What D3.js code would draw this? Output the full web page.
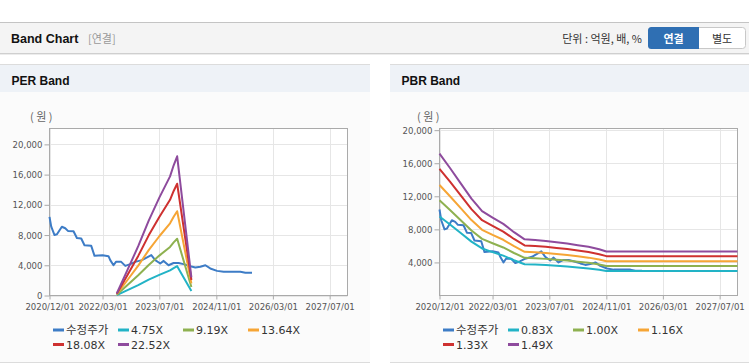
<!DOCTYPE html>
<html>
<head>
<meta charset="utf-8">
<script src="https://cdn.jsdelivr.net/npm/d3@7"></script>
<style>
  body { margin: 0; background: #fff; }
  svg { display: block; font-family: "Liberation Sans", Arial, sans-serif; }
  .kr { font-family: "Noto Sans CJK KR", "Liberation Sans", sans-serif; }
</style>
</head>
<body>
<svg id="page" width="749" height="364"></svg>
<script>
// ---- data ----
const xTickDates = ['2020-12-01', '2022-03-01', '2023-07-01', '2024-11-01', '2026-03-01', '2027-07-01'];
const xDomain = ['2020-12-01', '2027-12-01'];

const priceDates = ['2020-12-01', '2020-12-16', '2021-01-13', '2021-02-03', '2021-03-17', '2021-04-15',
    '2021-05-08', '2021-06-25', '2021-07-24', '2021-08-30', '2021-09-27', '2021-11-24', '2021-12-22',
    '2022-03-01', '2022-04-21', '2022-05-06', '2022-06-03', '2022-06-24', '2022-08-08', '2022-09-12',
    '2022-10-25', '2022-12-07', '2023-02-02', '2023-04-23', '2023-05-27', '2023-07-09', '2023-08-07',
    '2023-09-18', '2023-10-31', '2023-12-13', '2024-01-25', '2024-03-23', '2024-05-05', '2024-06-17',
    '2024-07-30', '2024-09-10', '2024-11-07', '2025-01-03', '2025-05-26', '2025-07-08', '2025-09-03'];
const priceValues = [10400, 9100, 8000, 8100, 9100, 8900,
    8550, 8500, 7600, 7550, 6650, 6570, 5250,
    5340, 5200, 4680, 4000, 4450, 4450, 3920,
    4150, 4450, 4680, 5340, 4680, 4240, 4580,
    4000, 4300, 4300, 4150, 3880, 3700, 3800,
    4000, 3580, 3260, 3130, 3130, 3000, 3000];

const perDates = ['2022-07-01', '2022-10-01', '2023-01-01', '2023-04-01', '2023-07-01', '2023-10-01',
    '2023-11-01', '2023-12-01', '2024-04-01'];
const per475 = [57, 710, 1380, 2090, 2730, 3330, 3630, 3886, 600];
const per919 = [110, 1380, 2670, 4040, 5280, 6430, 7030, 7517, 1120];
const per1364 = [164, 2050, 3960, 6000, 7840, 9550, 10430, 11158, 1600];
const per1808 = [217, 2710, 5240, 7960, 10400, 12660, 13830, 14789, 2050];
const per2252 = [270, 3380, 6530, 9910, 12950, 15760, 17230, 18421, 2400];

const pbrDates = ['2020-12-01', '2021-03-01', '2021-06-01', '2021-09-01', '2021-12-01', '2022-03-01',
    '2022-06-01', '2022-09-01', '2022-12-01', '2023-03-01', '2023-06-01', '2023-09-01', '2023-12-01',
    '2024-03-01', '2024-06-01', '2024-09-01', '2024-11-01', '2027-12-01'];
const pbr083 = [9560, 8590, 7550, 6520, 5690, 5250, 4820, 4270, 3780, 3740, 3680, 3590, 3510, 3390, 3280, 3120, 2970, 2970];
const pbr100 = [11520, 10350, 9100, 7860, 6850, 6320, 5810, 5140, 4560, 4500, 4430, 4330, 4230, 4090, 3950, 3760, 3580, 3580];
const pbr116 = [13360, 12010, 10560, 9120, 7950, 7330, 6740, 5960, 5290, 5220, 5140, 5020, 4910, 4740, 4580, 4360, 4150, 4150];
const pbr133 = [15320, 13770, 12100, 10450, 9110, 8410, 7730, 6840, 6060, 5990, 5890, 5760, 5630, 5440, 5250, 5000, 4760, 4760];
const pbr149 = [17160, 15420, 13560, 11710, 10210, 9420, 8660, 7660, 6790, 6710, 6600, 6450, 6300, 6090, 5890, 5600, 5330, 5330];

const perLabels = ['수정주가', '4.75X', '9.19X', '13.64X', '18.08X', '22.52X'];
const pbrLabels = ['수정주가', '0.83X', '1.00X', '1.16X', '1.33X', '1.49X'];
const perYTicks = [0, 4000, 8000, 12000, 16000, 20000];
const pbrYTicks = [4000, 8000, 12000, 16000, 20000];

const colors = ['#3d7cc6', '#22b3c6', '#8eb150', '#f6a535', '#ce3130', '#8e4b9d'];

const parse = d3.timeParse('%Y-%m-%d');
const svg = d3.select('#page');

// ---- header ----
svg.append('rect').attr('x', 0).attr('y', 22).attr('width', 749).attr('height', 31).attr('fill', '#f4f4f4');
svg.append('line').attr('x1', 0).attr('x2', 749).attr('y1', 22.5).attr('y2', 22.5).attr('stroke', '#c4c4c4');
svg.append('line').attr('x1', 0).attr('x2', 749).attr('y1', 53.5).attr('y2', 53.5).attr('stroke', '#cfcfcf');
svg.append('line').attr('x1', 0).attr('x2', 749).attr('y1', 54.5).attr('y2', 54.5).attr('stroke', '#ececec');
svg.append('text').attr('x', 11).attr('y', 42.5).attr('font-size', 12.5).attr('font-weight', 'bold')
    .attr('fill', '#111').text('Band Chart');
svg.append('text').attr('class', 'kr').attr('x', 88).attr('y', 42.5).attr('font-size', 11)
    .attr('fill', '#999').text('[연결]');
svg.append('text').attr('class', 'kr').attr('x', 642).attr('y', 42.5).attr('font-size', 11)
    .attr('text-anchor', 'end').attr('fill', '#333').text('단위 : 억원, 배, %');
svg.append('rect').attr('x', 648.5).attr('y', 27.5).attr('width', 97).attr('height', 21).attr('rx', 3)
    .attr('fill', '#fff').attr('stroke', '#c8c8c8');
svg.append('path').attr('d', 'M699,27 L651.5,27 Q648,27 648,30.5 L648,45.5 Q648,49 651.5,49 L699,49 Z')
    .attr('fill', '#2f6fb3');
svg.append('text').attr('class', 'kr').attr('x', 673.5).attr('y', 42.5).attr('font-size', 11)
    .attr('font-weight', 'bold').attr('text-anchor', 'middle').attr('fill', '#fff').text('연결');
svg.append('text').attr('class', 'kr').attr('x', 722).attr('y', 42.5).attr('font-size', 11)
    .attr('text-anchor', 'middle').attr('fill', '#333').text('별도');

// ---- one band chart panel ----
function drawPanel(opt) {
    const g = svg.append('g');
    // panel frame + title bar
    g.append('rect').attr('x', opt.panelX).attr('y', 64).attr('width', opt.panelW).attr('height', 298)
        .attr('fill', '#fbfbfb');
    g.append('rect').attr('x', opt.panelX).attr('y', 64).attr('width', opt.panelW).attr('height', 28)
        .attr('fill', '#eef2f7');
    g.append('line').attr('x1', opt.panelX).attr('x2', opt.panelX + opt.panelW)
        .attr('y1', 64.5).attr('y2', 64.5).attr('stroke', '#dcdcdc');
    g.append('line').attr('x1', opt.panelX).attr('x2', opt.panelX + opt.panelW)
        .attr('y1', 362.5).attr('y2', 362.5).attr('stroke', '#dcdcdc');
    g.append('text').attr('x', opt.panelX + 11.5).attr('y', 85).attr('font-size', 12)
        .attr('font-weight', 'bold').attr('fill', '#111').text(opt.title);

    const x = d3.scaleTime().domain(xDomain.map(parse)).range([opt.left, opt.right]);
    const y = d3.scaleLinear().domain([0, opt.yMax]).range([295.5, 128.5]);

    g.append('rect').attr('x', opt.left).attr('y', 128.5).attr('width', opt.right - opt.left)
        .attr('height', 167).attr('fill', '#fff');

    // grid
    g.append('g').selectAll('line').data(xTickDates.map(parse)).enter().append('line')
        .attr('x1', d => Math.round(x(d)) + 0.5).attr('x2', d => Math.round(x(d)) + 0.5)
        .attr('y1', 128.5).attr('y2', 295.5).attr('stroke', '#e6e6e6');
    g.append('g').selectAll('line').data(opt.yTicks).enter().append('line')
        .attr('x1', opt.left).attr('x2', opt.right)
        .attr('y1', d => Math.round(y(d)) + 0.5).attr('y2', d => Math.round(y(d)) + 0.5)
        .attr('stroke', '#e6e6e6');

    // axes
    const yAxis = g.append('g').attr('transform', `translate(${opt.left},0)`)
        .call(d3.axisLeft(y).tickValues(opt.yTicks).tickSize(5).tickPadding(2)
            .tickFormat(d3.format(',')));
    const xAxis = g.append('g').attr('transform', 'translate(0,295.5)')
        .call(d3.axisBottom(x).tickValues(xTickDates.map(parse)).tickSize(4).tickPadding(4)
            .tickFormat(d3.timeFormat('%Y/%m/%d')));
    [xAxis, yAxis].forEach(a => {
        a.select('.domain').remove();
        a.selectAll('line').attr('stroke', '#aaa');
        a.selectAll('text').attr('fill', '#555').attr('font-size', 9.5)
            .attr('font-family', '"DejaVu Sans Condensed", "Liberation Sans", sans-serif');
    });

    // frame
    g.append('rect').attr('x', opt.left).attr('y', 128.5).attr('width', opt.right - opt.left)
        .attr('height', 167).attr('fill', 'none').attr('stroke', '#aaa');

    g.append('text').attr('class', 'kr').attr('x', opt.unitX).attr('y', 121).attr('font-size', 11)
        .attr('fill', '#666').text('( 원 )');

    // series
    const line = d3.line().x(d => x(d.date)).y(d => y(d.value));
    const series = opt.series.map(s => s.dates.map((dt, i) => ({ date: parse(dt), value: s.values[i] })));
    [0, 1, 2, 3, 4, 5].forEach(i => {
        g.append('path').datum(series[i]).attr('fill', 'none').attr('stroke', colors[i])
            .attr('stroke-width', 2).attr('stroke-linejoin', 'round').attr('d', line);
    });

    // legend
    const lg = g.append('g');
    opt.labels.forEach((lab, i) => {
        const lx = opt.legendX + (i % 4) * 65;
        const ly = 330 + Math.floor(i / 4) * 14.5;
        lg.append('line').attr('x1', lx).attr('x2', lx + 11).attr('y1', ly).attr('y2', ly)
            .attr('stroke', colors[i]).attr('stroke-width', 3);
        lg.append('text').attr('class', i === 0 ? 'kr' : null).attr('x', lx + 13).attr('y', ly + 4)
            .attr('font-size', i === 0 ? 11.5 : 11).attr('fill', '#333')
            .attr('font-family', i === 0 ? null : '"DejaVu Sans", sans-serif').text(lab);
    });
}

drawPanel({
    panelX: 0, panelW: 370, title: 'PER Band', left: 49.5, right: 347.5, yMax: 22100,
    yTicks: perYTicks, unitX: 30, legendX: 53, labels: perLabels,
    series: [
        { dates: priceDates, values: priceValues },
        { dates: perDates, values: per475 },
        { dates: perDates, values: per919 },
        { dates: perDates, values: per1364 },
        { dates: perDates, values: per1808 },
        { dates: perDates, values: per2252 }
    ]
});

drawPanel({
    panelX: 390, panelW: 359, title: 'PBR Band', left: 439.5, right: 737.5, yMax: 20200,
    yTicks: pbrYTicks, unitX: 417, legendX: 443, labels: pbrLabels,
    series: [
        { dates: priceDates, values: priceValues },
        { dates: pbrDates, values: pbr083 },
        { dates: pbrDates, values: pbr100 },
        { dates: pbrDates, values: pbr116 },
        { dates: pbrDates, values: pbr133 },
        { dates: pbrDates, values: pbr149 }
    ]
});
</script>
</body>
</html>
